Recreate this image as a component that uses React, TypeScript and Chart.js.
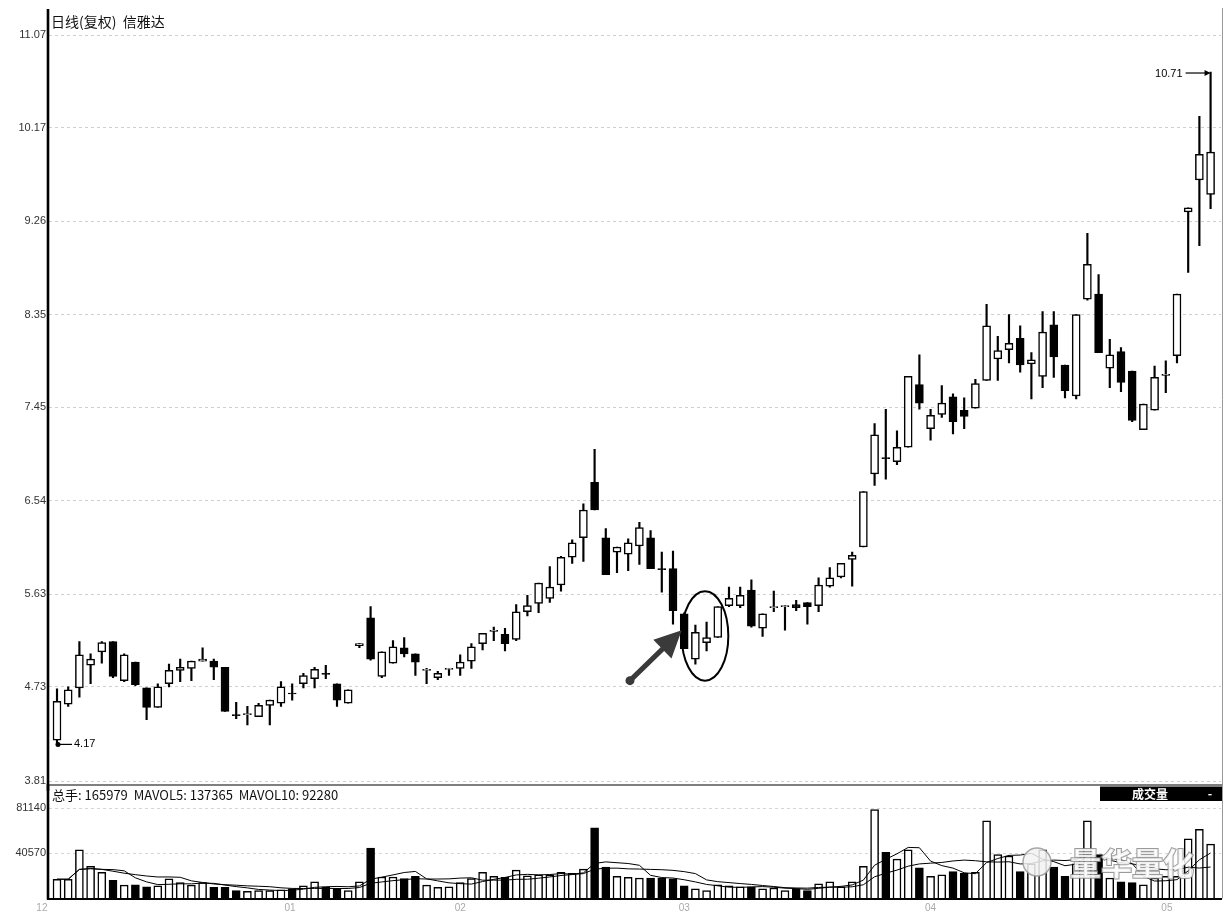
import React, { useEffect, useRef } from 'react';
import { Chart, registerables } from 'chart.js';

Chart.register(...registerables);

const FONT = '"Liberation Sans", "DejaVu Sans", Arial, sans-serif';
const CJK = '"Noto Sans CJK SC", "Liberation Sans", sans-serif';

const titleText = '日线(复权)  信雅达';
const volumeLegend = '总手: 165979  MAVOL5: 137365  MAVOL10: 92280';
const volumeBoxText = '成交量';
const watermarkText = '量华量化';

const priceTicks = [3.81, 4.73, 5.63, 6.54, 7.45, 8.35, 9.26, 10.17, 11.07];
const volumeTicks = [40570, 81140];
const monthLabels = ['12', '01', '02', '03', '04', '05'];
const monthPositions = [-0.35, 21.8, 37, 57, 79, 100.1];

const opens = [
  4.21, 4.56, 4.72, 4.94, 5.07, 5.17, 4.79, 4.97, 4.72, 4.53,
  4.76, 4.89, 4.91, 4.98, 4.98, 4.92, 4.46, 4.46, 4.44, 4.55,
  4.57, 4.67, 4.76, 4.81, 4.86, 4.76, 4.57, 5.13, 5.40, 4.83,
  4.96, 5.11, 5.05, 4.89, 4.82, 4.90, 4.91, 4.98, 5.15, 5.27,
  5.24, 5.19, 5.46, 5.54, 5.59, 5.72, 5.99, 6.18, 6.72, 6.18,
  6.04, 6.02, 6.10, 6.18, 5.88, 5.88, 5.44, 5.00, 5.16, 5.21,
  5.52, 5.52, 5.67, 5.30, 5.50, 5.51, 5.53, 5.55, 5.52, 5.71,
  5.80, 5.97, 6.09, 6.80, 6.96, 6.92, 7.06, 7.67, 7.24, 7.38,
  7.55, 7.42, 7.44, 7.71, 7.92, 8.01, 8.12, 7.87, 7.75, 8.25,
  7.86, 7.56, 8.50, 8.55, 7.83, 7.99, 7.80, 7.23, 7.42, 7.76,
  7.95, 9.35, 9.66, 9.52,
];
const highs = [
  4.71, 4.73, 5.17, 5.05, 5.17, 5.17, 5.05, 4.97, 4.72, 4.76,
  4.95, 5.00, 4.98, 5.11, 5.00, 4.92, 4.58, 4.54, 4.57, 4.60,
  4.78, 4.76, 4.86, 4.92, 4.94, 4.76, 4.70, 5.15, 5.51, 5.07,
  5.18, 5.21, 5.05, 4.91, 4.88, 4.91, 5.04, 5.15, 5.25, 5.31,
  5.30, 5.53, 5.62, 5.74, 5.90, 6.00, 6.16, 6.51, 7.04, 6.27,
  6.09, 6.17, 6.33, 6.25, 6.04, 6.05, 5.45, 5.33, 5.36, 5.51,
  5.70, 5.70, 5.77, 5.44, 5.66, 5.52, 5.57, 5.55, 5.79, 5.89,
  5.93, 6.04, 6.63, 7.29, 7.43, 7.22, 7.75, 7.96, 7.43, 7.66,
  7.58, 7.54, 7.72, 8.45, 8.14, 8.35, 8.24, 7.98, 8.38, 8.38,
  7.86, 8.35, 9.14, 8.74, 8.11, 8.03, 7.80, 7.48, 7.85, 7.90,
  8.55, 9.39, 10.28, 10.71,
];
const lows = [
  4.17, 4.54, 4.63, 4.76, 4.96, 4.82, 4.78, 4.74, 4.41, 4.53,
  4.73, 4.78, 4.79, 4.98, 4.80, 4.49, 4.42, 4.36, 4.44, 4.36,
  4.54, 4.60, 4.72, 4.72, 4.81, 4.54, 4.57, 5.11, 4.99, 4.82,
  4.96, 5.02, 4.84, 4.76, 4.80, 4.84, 4.84, 4.91, 5.09, 5.18,
  5.08, 5.18, 5.42, 5.45, 5.55, 5.66, 5.93, 5.95, 6.45, 5.82,
  5.84, 5.86, 5.92, 5.88, 5.65, 5.34, 5.10, 4.95, 5.08, 5.21,
  5.51, 5.50, 5.31, 5.22, 5.46, 5.28, 5.47, 5.34, 5.46, 5.70,
  5.79, 5.71, 6.09, 6.69, 6.75, 6.89, 7.06, 7.43, 7.13, 7.35,
  7.19, 7.24, 7.44, 7.71, 7.71, 7.88, 7.79, 7.53, 7.64, 7.74,
  7.54, 7.53, 8.49, 7.98, 7.64, 7.60, 7.31, 7.23, 7.42, 7.59,
  7.88, 8.76, 9.02, 9.38,
];
const closes = [
  4.59, 4.70, 5.04, 5.00, 5.16, 4.83, 5.04, 4.75, 4.53, 4.73,
  4.89, 4.92, 4.98, 5.00, 4.92, 4.49, 4.45, 4.47, 4.55, 4.60,
  4.73, 4.66, 4.84, 4.90, 4.85, 4.60, 4.70, 5.15, 5.00, 5.07,
  5.12, 5.05, 4.97, 4.90, 4.86, 4.91, 4.97, 5.12, 5.25, 5.28,
  5.15, 5.46, 5.52, 5.74, 5.70, 5.99, 6.13, 6.45, 6.45, 5.82,
  6.09, 6.13, 6.28, 5.88, 5.87, 5.47, 5.10, 5.26, 5.21, 5.51,
  5.59, 5.62, 5.32, 5.44, 5.51, 5.52, 5.50, 5.51, 5.72, 5.79,
  5.93, 6.01, 6.63, 7.18, 6.95, 7.06, 7.75, 7.49, 7.37, 7.49,
  7.31, 7.36, 7.68, 8.24, 8.00, 8.07, 7.86, 7.91, 8.18, 7.94,
  7.61, 8.35, 8.84, 7.98, 7.96, 7.69, 7.32, 7.48, 7.74, 7.77,
  8.55, 9.39, 9.91, 9.93,
];
const volumes = [
  17320, 17320, 43770, 28900, 23490, 16220, 12000, 12250, 10560, 11410,
  17580, 14200, 12000, 14200, 9970, 9970, 7180, 6340, 7180, 7180,
  7770, 8620, 11410, 15040, 9970, 9130, 7180, 15040, 45210, 19270,
  19270, 17910, 19860, 12000, 9970, 10560, 14200, 17910, 23490, 19860,
  19010, 25520, 20450, 21290, 21290, 23490, 22650, 26360, 63540, 28310,
  19860, 19010, 18420, 18420, 18420, 17580, 11410, 8620, 7180, 12250,
  11410, 10560, 10560, 8620, 9460, 7180, 8620, 7180, 13100, 15040,
  10560, 15040, 28900, 79850, 41570, 35320, 43770, 27460, 19860, 21290,
  24080, 22650, 23490, 69710, 39550, 38190, 24080, 31100, 43770, 28310,
  19860, 31100, 69710, 39550, 18420, 15040, 14200, 12250, 18420, 19860,
  19860, 53660, 62110, 48840,
];

const days = opens.map((_, i) => i + 1);
const X_MIN = 0.2857;
const X_MAX = 104.93;
const PRICE_MIN = 3.81;
const PRICE_MAX = 11.07;
const VOL_MAX = 94200;

// annotation anchors (in data units)
const ellipseCenter = 58.86;
const ellipseHalfWidth = 2.08;
const ellipseTop = 5.66;
const ellipseBottom = 4.79;
const arrowTail = { x: 52.16, y: 4.79 };
const arrowTip = { x: 56.78, y: 5.28 };

const isUp = (i: number) => closes[i] >= opens[i];

const movingAvg = (arr: number[], n: number) =>
  arr.map((_, i) => {
    const s = arr.slice(Math.max(0, i - n + 1), i + 1);
    return s.reduce((a, b) => a + b, 0) / s.length;
  });

const overlayA = {
  id: 'overlayA',
  afterDraw(chart: any) {
    const { ctx } = chart;
    const x = chart.scales.x;
    const y = chart.scales.y;
    ctx.save();
    ctx.strokeStyle = '#9a9a9a';
    ctx.lineWidth = 1;
    ctx.beginPath();
    ctx.moveTo(1222.5, 8);
    ctx.lineTo(1222.5, chart.height);
    ctx.stroke();
    ctx.strokeStyle = '#000';
    ctx.lineWidth = 2.6;
    ctx.beginPath();
    ctx.moveTo(48, 9);
    ctx.lineTo(48, chart.height);
    ctx.stroke();
    ctx.fillStyle = '#111';
    ctx.font = `14px ${CJK}`;
    ctx.textBaseline = 'middle';
    ctx.textAlign = 'left';
    ctx.fillText(titleText, 51, 22);

    // low marker
    const lx = x.getPixelForValue(1);
    const ly = y.getPixelForValue(lows[0]);
    ctx.fillStyle = '#000';
    ctx.beginPath();
    ctx.arc(lx + 1, ly, 2.5, 0, Math.PI * 2);
    ctx.fill();
    ctx.lineWidth = 1.2;
    ctx.beginPath();
    ctx.moveTo(lx + 1, ly);
    ctx.lineTo(lx + 15, ly);
    ctx.stroke();
    ctx.font = `11px ${FONT}`;
    ctx.fillText(lows[0].toFixed(2), lx + 17, ly);

    // high marker
    const hx = x.getPixelForValue(104);
    const hy = y.getPixelForValue(highs[103]);
    ctx.lineWidth = 1.2;
    ctx.beginPath();
    ctx.moveTo(hx - 25, hy + 1);
    ctx.lineTo(hx - 2, hy + 1);
    ctx.stroke();
    ctx.beginPath();
    ctx.moveTo(hx, hy + 1);
    ctx.lineTo(hx - 6, hy - 2);
    ctx.lineTo(hx - 6, hy + 4);
    ctx.closePath();
    ctx.fill();
    ctx.textAlign = 'right';
    ctx.fillText(highs[103].toFixed(2), hx - 28, hy + 2);

    // ellipse
    const cx = x.getPixelForValue(ellipseCenter);
    const rx = x.getPixelForValue(ellipseCenter + ellipseHalfWidth) - cx;
    const yt = y.getPixelForValue(ellipseTop);
    const yb = y.getPixelForValue(ellipseBottom);
    ctx.strokeStyle = '#000';
    ctx.lineWidth = 2;
    ctx.beginPath();
    ctx.ellipse(cx, (yt + yb) / 2, rx, (yb - yt) / 2, 0, 0, Math.PI * 2);
    ctx.stroke();

    // big arrow
    const tx = x.getPixelForValue(arrowTail.x);
    const ty = y.getPixelForValue(arrowTail.y);
    const px = x.getPixelForValue(arrowTip.x);
    const py = y.getPixelForValue(arrowTip.y);
    const len = Math.hypot(px - tx, py - ty);
    const dx = (px - tx) / len;
    const dy = (py - ty) / len;
    const bx = px - dx * 27;
    const by = py - dy * 27;
    ctx.fillStyle = '#3a3a3a';
    ctx.strokeStyle = '#3a3a3a';
    ctx.lineWidth = 5;
    ctx.lineCap = 'round';
    ctx.beginPath();
    ctx.moveTo(tx, ty);
    ctx.lineTo(bx, by);
    ctx.stroke();
    ctx.beginPath();
    ctx.arc(tx, ty, 4.5, 0, Math.PI * 2);
    ctx.fill();
    ctx.beginPath();
    ctx.moveTo(px, py);
    ctx.lineTo(bx - dy * 13, by + dx * 13);
    ctx.lineTo(bx + dy * 13, by - dx * 13);
    ctx.closePath();
    ctx.fill();
    ctx.restore();
  },
};

const overlayB = {
  id: 'overlayB',
  afterDraw(chart: any) {
    const { ctx, chartArea } = chart;
    const x = chart.scales.x;
    ctx.save();
    ctx.strokeStyle = '#555';
    ctx.lineWidth = 1.5;
    ctx.beginPath();
    ctx.moveTo(48, 1);
    ctx.lineTo(1222, 1);
    ctx.stroke();
    ctx.strokeStyle = '#9a9a9a';
    ctx.lineWidth = 1;
    ctx.beginPath();
    ctx.moveTo(1222.5, 0);
    ctx.lineTo(1222.5, chartArea.bottom);
    ctx.stroke();
    ctx.strokeStyle = '#000';
    ctx.lineWidth = 2.6;
    ctx.beginPath();
    ctx.moveTo(48, 0);
    ctx.lineTo(48, chartArea.bottom + 1);
    ctx.stroke();
    ctx.lineWidth = 2;
    ctx.beginPath();
    ctx.moveTo(47, chartArea.bottom + 0.5);
    ctx.lineTo(1222, chartArea.bottom + 0.5);
    ctx.stroke();
    ctx.fillStyle = '#111';
    ctx.font = `13px ${CJK}`;
    ctx.textBaseline = 'middle';
    ctx.textAlign = 'left';
    ctx.fillText(volumeLegend, 52, 11);
    ctx.fillStyle = '#000';
    ctx.fillRect(1100, 2.5, 122, 14.5);
    ctx.fillStyle = '#fff';
    ctx.font = `bold 12px ${CJK}`;
    ctx.textAlign = 'center';
    ctx.fillText(volumeBoxText, 1150, 10);
    ctx.fillText('-', 1210, 9);
    ctx.fillStyle = '#aaaaaa';
    ctx.font = `10px ${FONT}`;
    monthLabels.forEach((m, i) => {
      ctx.fillText(m, x.getPixelForValue(monthPositions[i]), 124);
    });
    // watermark
    ctx.globalAlpha = 0.85;
    ctx.fillStyle = '#f2f2f2';
    ctx.strokeStyle = '#9a9a9a';
    ctx.lineWidth = 1.5;
    ctx.beginPath();
    ctx.arc(1037, 78, 14, 0, Math.PI * 2);
    ctx.fill();
    ctx.stroke();
    ctx.font = `bold 31px ${CJK}`;
    ctx.textAlign = 'left';
    ctx.lineWidth = 2;
    ctx.strokeStyle = '#8a8a8a';
    ctx.strokeText(watermarkText, 1070, 79);
    ctx.fillStyle = '#ffffff';
    ctx.fillText(watermarkText, 1070, 79);
    ctx.restore();
  },
};

export default function App() {
  const aRef = useRef<HTMLCanvasElement | null>(null);
  const bRef = useRef<HTMLCanvasElement | null>(null);

  useEffect(() => {
    Chart.defaults.font.family = FONT;
    const ma5 = movingAvg(volumes, 5);
    const ma10 = movingAvg(volumes, 10);

    const xScale = {
      type: 'linear',
      min: X_MIN,
      max: X_MAX,
      offset: false,
      bounds: 'ticks',
      display: false,
      grid: { offset: false },
    } as any;

    const chartA = new Chart(aRef.current as HTMLCanvasElement, {
      type: 'bar',
      data: {
        datasets: [
          {
            type: 'bar',
            label: 'body',
            data: days.map((d, i) => ({ x: d, y: [opens[i], closes[i]] })) as any,
            backgroundColor: (c: any) => (isUp(c.dataIndex) ? '#ffffff' : '#000000'),
            borderColor: '#000',
            borderWidth: 1.5,
            borderSkipped: false,
            barThickness: 8,
            grouped: false,
            order: 1,
          } as any,
          {
            type: 'bar',
            label: 'wick',
            data: days.map((d, i) => ({ x: d, y: [lows[i], highs[i]] })) as any,
            backgroundColor: '#000',
            borderWidth: 0,
            barThickness: 1.5,
            grouped: false,
            order: 2,
          } as any,
        ],
      },
      options: {
        animation: false,
        responsive: false,
        maintainAspectRatio: false,
        layout: { padding: { left: 0, right: 5, top: 35, bottom: 8 } },
        plugins: { legend: { display: false }, tooltip: { enabled: false } },
        scales: {
          x: xScale,
          y: {
            type: 'linear',
            min: PRICE_MIN,
            max: PRICE_MAX,
            afterBuildTicks: (s: any) => {
              s.ticks = priceTicks.map((v) => ({ value: v }));
            },
            afterFit: (s: any) => {
              s.width = 49;
            },
            ticks: {
              autoSkip: false,
              padding: 3,
              color: '#333',
              font: { size: 11, family: FONT },
              callback: (v: any) => Number(v).toFixed(2),
            },
            grid: { color: '#cfcfcf', drawTicks: false, lineWidth: 1 },
            border: { display: false, dash: [3, 3] },
          } as any,
        },
      },
      plugins: [overlayA],
    });

    const chartB = new Chart(bRef.current as HTMLCanvasElement, {
      type: 'bar',
      data: {
        datasets: [
          {
            type: 'line',
            label: 'MAVOL5',
            data: days.map((d, i) => ({ x: d, y: ma5[i] })) as any,
            borderColor: '#000',
            borderWidth: 1,
            pointRadius: 0,
            tension: 0,
            order: 0,
          } as any,
          {
            type: 'line',
            label: 'MAVOL10',
            data: days.map((d, i) => ({ x: d, y: ma10[i] })) as any,
            borderColor: '#000',
            borderWidth: 1,
            pointRadius: 0,
            tension: 0,
            order: 0,
          } as any,
          {
            type: 'bar',
            label: 'volume',
            data: days.map((d, i) => ({ x: d, y: volumes[i] })) as any,
            backgroundColor: (c: any) => (isUp(c.dataIndex) ? '#ffffff' : '#000000'),
            borderColor: '#000',
            borderWidth: 1.5,
            borderSkipped: 'bottom',
            barThickness: 8,
            grouped: false,
            order: 2,
          } as any,
        ],
      },
      options: {
        animation: false,
        responsive: false,
        maintainAspectRatio: false,
        layout: { padding: { left: 0, right: 5, top: 3, bottom: 17.5 } },
        plugins: { legend: { display: false }, tooltip: { enabled: false } },
        scales: {
          x: xScale,
          y: {
            type: 'linear',
            min: 0,
            max: VOL_MAX,
            afterBuildTicks: (s: any) => {
              s.ticks = volumeTicks.map((v) => ({ value: v }));
            },
            afterFit: (s: any) => {
              s.width = 49;
            },
            ticks: {
              autoSkip: false,
              padding: 3,
              color: '#333',
              font: { size: 11, family: FONT },
              callback: (v: any) => String(v),
            },
            grid: { color: '#d5d5d5', drawTicks: false, lineWidth: 1 },
            border: { display: false, dash: [3, 3] },
          } as any,
        },
      },
      plugins: [overlayB],
    });

    return () => {
      chartA.destroy();
      chartB.destroy();
    };
  }, []);

  return (
    <div style={{ position: 'absolute', left: 0, top: 0, width: 1226, height: 916, background: '#fff' }}>
      <canvas ref={aRef} width={1226} height={791} style={{ position: 'absolute', left: 0, top: 0 }} />
      <canvas ref={bRef} width={1226} height={132} style={{ position: 'absolute', left: 0, top: 784 }} />
    </div>
  );
}
